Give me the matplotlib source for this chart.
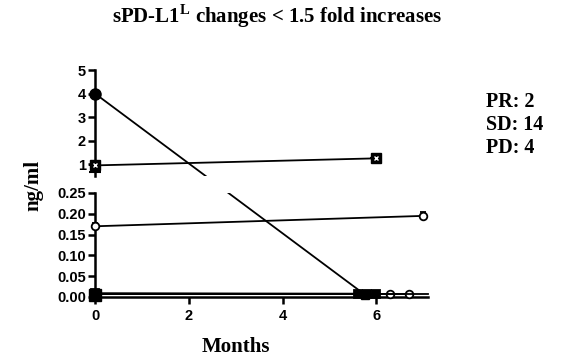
import matplotlib
matplotlib.use("Agg")
import matplotlib.pyplot as plt
import numpy as np

# ---- data ----
title = r"sPD-L1$^{\mathbf{L}}$ changes < 1.5 fold increases"
x_label = "Months"
y_label = "ng/ml"
response_text = ["PR: 2", "SD: 14", "PD: 4"]

top_yticks = [1, 2, 3, 4, 5]
bot_yticks = [0.00, 0.05, 0.10, 0.15, 0.20, 0.25]
x_ticks = [0, 2, 4, 6]

# crossing series (top -> bottom)
drop_x = [0, 5.75]
drop_y = [4.0, 0.006]

# square series in upper panel
sq_x = [0, 6.0]
sq_y = [0.95, 1.25]
sq_err_lo = [0.3, 0.0]
sq_err_hi = [0.0, 0.0]

# open circle series in lower panel
oc_x = [0, 7.0]
oc_y = [0.17, 0.195]
oc_err_lo = [0.0, 0.0]
oc_err_hi = [0.008, 0.01]

# near-zero series
zero_series = [
    ([0, 5.6], [0.008, 0.007], "s", "k"),
    ([0, 5.8], [0.009, 0.008], "s", "k"),
    ([0, 6.0], [0.007, 0.007], "s", "k"),
    ([0, 6.3], [0.007, 0.007], "o", "w"),
    ([0, 6.7], [0.007, 0.007], "o", "w"),
    ([0, 7.1], [0.008, 0.008], "", "k"),
]

plt.rcParams['mathtext.fontset'] = 'custom'
plt.rcParams['mathtext.rm'] = 'Liberation Serif'
plt.rcParams['mathtext.bf'] = 'Liberation Serif:bold'

W, H = 566, 360
fig = plt.figure(figsize=(W / 100, H / 100), dpi=100)

def fx(px):
    return px / W

def fy(py):
    return 1 - py / H

left = fx(95)
right = fx(428)
ax_top = fig.add_axes([left, fy(176), right - left, fy(70) - fy(176)])
ax_bot = fig.add_axes([left, fy(297), right - left, fy(193) - fy(297)])

xlim = (0, 7.1)
ax_top.set_xlim(*xlim)
ax_bot.set_xlim(*xlim)
ax_top.set_ylim(0.5, 5)
ax_bot.set_ylim(0, 0.25)

tick_font = dict(family="Liberation Sans", weight="bold", size=10.5)

for ax in (ax_top, ax_bot):
    ax.spines['top'].set_visible(False)
    ax.spines['right'].set_visible(False)
    ax.spines['left'].set_linewidth(1.8)
    ax.spines['bottom'].set_linewidth(1.8)
    ax.tick_params(axis='both', direction='out', width=1.8, length=5, pad=1.5)
    ax.patch.set_visible(False)
ax_bot.tick_params(axis='x', pad=4)

ax_top.spines['bottom'].set_visible(False)
ax_top.set_xticks([])
ax_top.set_yticks(top_yticks)
ax_top.set_yticklabels([str(t) for t in top_yticks], fontdict=tick_font)

ax_bot.set_yticks(bot_yticks)
ax_bot.set_yticklabels([f"{t:.2f}" for t in bot_yticks], fontdict=tick_font)
ax_bot.set_xticks(x_ticks)
ax_bot.set_xticklabels([str(t) for t in x_ticks], fontdict=tick_font)

lw = 1.3

# crossing line drawn straight in display space across the break
p0_disp = ax_top.transData.transform((drop_x[0], drop_y[0]))
p1_disp = ax_bot.transData.transform((drop_x[1], drop_y[1]))
top_pts = ax_top.transData.inverted().transform(np.array([p0_disp, p1_disp]))
bot_pts = ax_bot.transData.inverted().transform(np.array([p0_disp, p1_disp]))
ax_top.plot(top_pts[:, 0], top_pts[:, 1], color='k', lw=lw)
ax_bot.plot(bot_pts[:, 0], bot_pts[:, 1], color='k', lw=lw)
ax_top.plot([drop_x[0]], [drop_y[0]], 'o', color='k', ms=8, clip_on=False, zorder=5)
ax_bot.plot([drop_x[1]], [drop_y[1]], 's', color='k', ms=6, clip_on=False, zorder=5)

# square series
ax_top.errorbar(sq_x, sq_y, yerr=[sq_err_lo, sq_err_hi], color='k', lw=lw,
                marker='s', ms=6.5, mfc='k', mec='k', capsize=4, capthick=1.5,
                elinewidth=1.5, clip_on=False, zorder=4)
ax_top.plot(sq_x, sq_y, ls='none', marker='x', ms=3.5, mec='w', mew=1.0,
            clip_on=False, zorder=6)

# open circle series
ax_bot.errorbar(oc_x, oc_y, yerr=[oc_err_lo, oc_err_hi], color='k', lw=lw,
                marker='o', ms=5.5, mfc='w', mec='k', mew=1.3, capsize=2,
                elinewidth=1.2, clip_on=False, zorder=4)

# near-zero series
for xs, ys, m, fc in zero_series:
    if m:
        ax_bot.plot(xs, ys, color='k', lw=lw, marker=m, ms=6 if m == 's' else 5.5,
                    mfc=fc, mec='k', mew=1.3, clip_on=False, zorder=3)
    else:
        ax_bot.plot(xs, ys, color='k', lw=lw, clip_on=False, zorder=3)
ax_bot.plot([0], [0.005], 's', color='k', ms=8, clip_on=False, zorder=5)

# texts
serif = dict(family='Liberation Serif', weight='bold')
fig.text(fx(277), fy(16), title, ha='center', va='center', size=15, **serif)
fig.text(fx(236), fy(347), x_label, ha='center', va='center', size=15, **serif)
fig.text(fx(33), fy(185), y_label, ha='center', va='center', rotation=90,
         size=15, **serif)
for i, t in enumerate(response_text):
    fig.text(fx(486), fy(102 + 23 * i), t, ha='left', va='center', size=14.5,
             **serif)

fig.savefig("out.png", dpi=100)
